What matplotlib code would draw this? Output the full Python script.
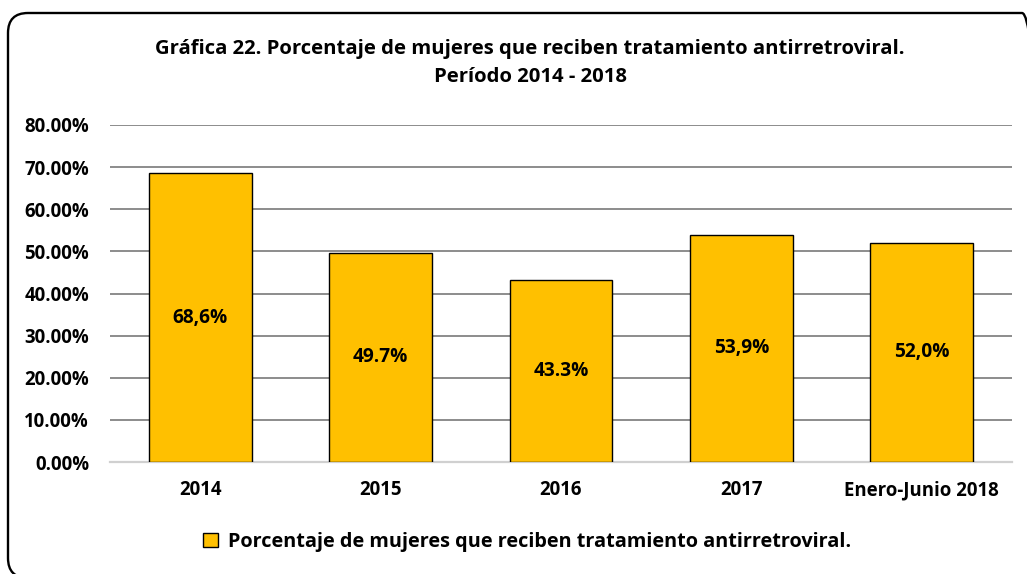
import matplotlib
matplotlib.use("Agg")
import matplotlib.pyplot as plt
from matplotlib.patches import FancyBboxPatch, Patch
from matplotlib.transforms import IdentityTransform
from matplotlib.ticker import FuncFormatter

plt.rcParams['font.family'] = ['Open Sans', 'DejaVu Sans']
plt.rcParams['font.weight'] = 'bold'

periodos = ['2014', '2015', '2016', '2017', 'Enero-Junio 2018']
porcentajes = [68.6, 49.7, 43.3, 53.9, 52.0]
etiquetas = ['68,6%', '49.7%', '43.3%', '53,9%', '52,0%']
serie = 'Porcentaje de mujeres que reciben tratamiento antirretroviral.'
titulo = ('Gráfica 22. Porcentaje de mujeres que reciben tratamiento antirretroviral.\n'
          'Período 2014 - 2018')

W, H = 1027, 574
fig = plt.figure(figsize=(W / 100, H / 100), dpi=100)
ax = fig.add_axes([110 / W, 1 - 462 / H, 902 / W, 337 / H])

# marco redondeado en píxeles; los bordes derecho e inferior quedan fuera
marco = FancyBboxPatch((8, -4), 1034, 565,
                       boxstyle="round,pad=0,rounding_size=20",
                       transform=IdentityTransform(), fill=False,
                       edgecolor='black', linewidth=1.7, clip_on=False)
fig.patches.append(marco)

x = range(len(periodos))
barras = ax.bar(x, porcentajes, width=0.57, color='#FFC000',
                edgecolor='black', linewidth=1.0, zorder=3)
for b, txt in zip(barras, etiquetas):
    ax.text(b.get_x() + b.get_width() / 2, b.get_height() / 2, txt,
            ha='center', va='center', fontsize=13.8, fontweight='bold', zorder=4)

ax.set_xlim(-0.5, len(periodos) - 0.5)
ax.set_ylim(0, 80)
ax.set_yticks(range(0, 81, 10))
ax.yaxis.set_major_formatter(FuncFormatter(lambda v, p: '%.2f%%' % v))
ax.set_xticks(list(x))
ax.set_xticklabels(periodos)
ax.tick_params(axis='both', length=0, labelsize=13.4)
ax.tick_params(axis='x', pad=13)
ax.tick_params(axis='y', pad=15)
for lbl in ax.get_xticklabels() + ax.get_yticklabels():
    lbl.set_fontweight('bold')

ax.grid(axis='y', color='#8c8c8c', linewidth=1.4, zorder=0)
for s in ['top', 'right', 'left']:
    ax.spines[s].set_visible(False)
ax.spines['bottom'].set_color('#d0d0d0')
ax.spines['bottom'].set_linewidth(1.6)

fig.text(530 / W, 1 - 63 / H, titulo, ha='center', va='center',
         fontsize=14.6, fontweight='bold', linespacing=1.55)

fig.legend(handles=[Patch(facecolor='#FFC000', edgecolor='black', label=serie)],
           loc='center', bbox_to_anchor=(527 / W, 1 - 542 / H), frameon=False,
           prop={'size': 14.3, 'weight': 'bold'}, handlelength=0.75,
           handleheight=0.75, handletextpad=0.5)

fig.savefig('out.png', dpi=100)
